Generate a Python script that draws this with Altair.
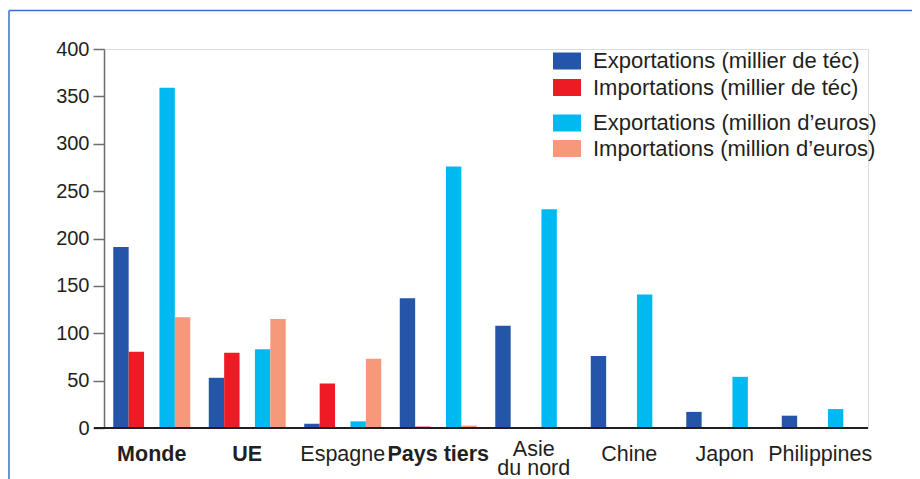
import altair as alt
import pandas as pd

categories = ["Monde", "UE", "Espagne", "Pays tiers", "Asie du nord", "Chine", "Japon", "Philippines"]
series = [
    "Exportations (millier de téc)",
    "Importations (millier de téc)",
    "Exportations (million d’euros)",
    "Importations (million d’euros)",
]
exp_tec = [191, 53, 4.5, 137, 108, 76, 17, 13]
imp_tec = [80.5, 79.5, 47, 1.5, None, None, None, None]
exp_eur = [359, 83, 7, 276, 231, 141, 54, 20]
imp_eur = [117, 115, 73, 2.5, None, None, None, None]
colors = ["#2356a6", "#ed1c24", "#00b9f1", "#f6997a"]
y_ticks = [0, 50, 100, 150, 200, 250, 300, 350, 400]
bold_labels = ["Monde", "UE", "Pays tiers"]

rows = []
for s, vals in zip(series, [exp_tec, imp_tec, exp_eur, imp_eur]):
    for c, v in zip(categories, vals):
        if v is not None:
            rows.append({"category": c, "series": s, "value": v})
df = pd.DataFrame(rows)

W, H = 764, 379
TXT = "#231f20"
GREY = "#6d6e71"
FONT = "Liberation Sans"

bold_test = " || ".join(f"datum.value == '{b}'" for b in bold_labels)

bars = alt.Chart(df).mark_bar().encode(
    x=alt.X(
        "category:N",
        scale=alt.Scale(domain=categories, paddingInner=0.194, paddingOuter=0.097),
        axis=alt.Axis(
            title=None, domain=False, ticks=False, tickSize=0, labelAngle=0,
            labelAlign="center", labelBaseline="top", labelFontSize=21.5,
            labelColor=TXT, labelFont=FONT, labelLineHeight=19,
            labelPadding={"condition": {"test": "datum.value == 'Asie du nord'", "value": 10}, "value": 15},
            labelOverlap=False, labelLimit=300,
            labelFontWeight={"condition": {"test": bold_test, "value": "bold"}, "value": "normal"},
            labelExpr="datum.value == 'Asie du nord' ? ['Asie', 'du nord'] : datum.value",
        ),
    ),
    xOffset=alt.XOffset(
        "series:N",
        scale=alt.Scale(domain=[series[0], series[1], "", series[2], series[3]],
                        paddingInner=0, paddingOuter=0),
    ),
    y=alt.Y(
        "value:Q",
        scale=alt.Scale(domain=[0, 400], nice=False),
        axis=alt.Axis(
            title=None, values=y_ticks, grid=False, tickSize=11, tickWidth=1.5,
            tickColor=GREY, domainColor=GREY, domainWidth=1.5,
            labelFontSize=20, labelPadding=4, labelColor=TXT, labelFont=FONT,
        ),
    ),
    color=alt.Color("series:N", scale=alt.Scale(domain=series, range=colors), legend=None),
)

one = pd.DataFrame({"k": [0]})

x_line = alt.Chart(one).mark_rule(color=TXT, strokeWidth=2).encode(
    y=alt.datum(0), x=alt.value(-10), x2=alt.value(W)
)

FRAME = "#3b6fc5"
frame_top = alt.Chart(one).mark_rule(color=FRAME, strokeWidth=1.5).encode(
    x=alt.value(-95), x2=alt.value(W + 70), y=alt.value(-38.5)
)
frame_left = alt.Chart(one).mark_rule(color=FRAME, strokeWidth=1.5).encode(
    x=alt.value(-95), y=alt.value(-38.5), y2=alt.value(H + 70)
)

legend_y = [12, 38.5, 74, 99.5]
legend_layers = []
for lab, col, yc in zip(series, colors, legend_y):
    ldf = pd.DataFrame({"label": [lab]})
    legend_layers.append(
        alt.Chart(ldf).mark_rect(color=col).encode(
            x=alt.value(449), x2=alt.value(477), y=alt.value(yc - 8.5), y2=alt.value(yc + 8.5)
        )
    )
    legend_layers.append(
        alt.Chart(ldf).mark_text(align="left", baseline="middle", fontSize=22,
                                 color=TXT, font=FONT).encode(
            x=alt.value(489), y=alt.value(yc), text="label:N"
        )
    )

chart = alt.layer(frame_top, frame_left, bars, x_line, *legend_layers).properties(
    width=W, height=H,
    padding={"left": 96, "top": 41, "right": 44, "bottom": 52},
    autosize=alt.AutoSizeParams(type="none"),
).configure_view(stroke=None).configure(font=FONT)

chart.save("out.html", embed_options={"renderer": "svg", "actions": False})
